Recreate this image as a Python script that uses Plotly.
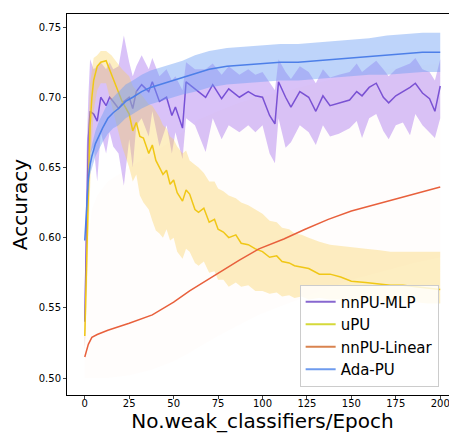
import plotly.graph_objects as go

# nnPU-MLP
mlp_ep = [0, 1, 2, 3, 5, 7, 9, 12, 14, 16, 19, 22, 25, 27, 29, 32, 36, 38, 42, 46,
          49, 51, 55, 57, 62, 68, 72, 77, 81, 87, 92, 96, 100, 104, 107, 109, 113, 116, 121, 126,
          130, 134, 138, 143, 149, 153, 156, 160, 164, 168, 171, 175, 179, 183, 186, 190, 194, 197, 200]
mlp_mean = [0.540, 0.620, 0.670, 0.690, 0.688, 0.683, 0.700, 0.694, 0.700, 0.697, 0.692, 0.697, 0.700, 0.692, 0.704, 0.709, 0.704, 0.711, 0.697, 0.700,
            0.687, 0.693, 0.678, 0.711, 0.706, 0.700, 0.709, 0.699, 0.706, 0.700, 0.704, 0.701, 0.700, 0.687, 0.681, 0.711, 0.700, 0.693, 0.704, 0.700,
            0.690, 0.701, 0.694, 0.696, 0.698, 0.704, 0.701, 0.707, 0.710, 0.700, 0.696, 0.701, 0.704, 0.707, 0.710, 0.703, 0.699, 0.690, 0.708]
mlp_lo = [0.520, 0.580, 0.630, 0.660, 0.665, 0.640, 0.675, 0.660, 0.675, 0.665, 0.660, 0.637, 0.670, 0.650, 0.680, 0.685, 0.672, 0.690, 0.665, 0.680,
          0.660, 0.675, 0.656, 0.685, 0.680, 0.661, 0.685, 0.670, 0.680, 0.675, 0.680, 0.675, 0.680, 0.660, 0.653, 0.685, 0.664, 0.668, 0.680, 0.675,
          0.666, 0.680, 0.672, 0.674, 0.678, 0.683, 0.671, 0.685, 0.688, 0.676, 0.670, 0.680, 0.682, 0.673, 0.688, 0.680, 0.675, 0.671, 0.685]
mlp_hi = [0.560, 0.660, 0.700, 0.727, 0.720, 0.722, 0.725, 0.720, 0.725, 0.720, 0.722, 0.744, 0.725, 0.715, 0.722, 0.730, 0.720, 0.728, 0.715, 0.720,
          0.712, 0.715, 0.705, 0.725, 0.720, 0.720, 0.724, 0.716, 0.722, 0.716, 0.720, 0.716, 0.718, 0.710, 0.705, 0.727, 0.718, 0.713, 0.722, 0.718,
          0.710, 0.720, 0.714, 0.716, 0.718, 0.724, 0.718, 0.722, 0.726, 0.720, 0.715, 0.720, 0.722, 0.724, 0.728, 0.720, 0.718, 0.712, 0.727]

# uPU
upu_ep = [0, 1, 2, 3, 4, 5, 7, 9, 12, 15, 18, 21, 25, 27, 29, 31, 33, 36, 38, 40,
          42, 44, 46, 48, 50, 52, 55, 57, 59, 62, 64, 67, 70, 73, 75, 78, 81, 85, 88, 92,
          96, 100, 104, 108, 111, 115, 118, 122, 126, 132, 138, 144, 150, 158, 166, 172, 179, 186, 193, 200]
upu_mean = [0.530, 0.580, 0.640, 0.680, 0.700, 0.712, 0.722, 0.725, 0.726, 0.716, 0.706, 0.697, 0.688, 0.676, 0.682, 0.672, 0.671, 0.660, 0.666, 0.655,
            0.650, 0.645, 0.648, 0.638, 0.641, 0.632, 0.626, 0.634, 0.631, 0.620, 0.618, 0.621, 0.611, 0.613, 0.606, 0.604, 0.600, 0.602, 0.596, 0.595,
            0.592, 0.590, 0.586, 0.587, 0.583, 0.582, 0.580, 0.579, 0.578, 0.574, 0.574, 0.572, 0.569, 0.568, 0.567, 0.566, 0.566, 0.565, 0.564, 0.563]
upu_lo = [0.520, 0.550, 0.600, 0.640, 0.670, 0.690, 0.705, 0.710, 0.710, 0.695, 0.680, 0.665, 0.650, 0.640, 0.645, 0.630, 0.625, 0.620, 0.612, 0.605,
          0.603, 0.600, 0.606, 0.598, 0.600, 0.590, 0.585, 0.592, 0.590, 0.582, 0.580, 0.583, 0.575, 0.576, 0.570, 0.570, 0.565, 0.568, 0.565, 0.566,
          0.562, 0.562, 0.560, 0.561, 0.558, 0.559, 0.557, 0.558, 0.556, 0.557, 0.556, 0.556, 0.555, 0.555, 0.555, 0.554, 0.554, 0.554, 0.553, 0.553]
upu_hi = [0.540, 0.610, 0.680, 0.710, 0.720, 0.728, 0.730, 0.733, 0.733, 0.730, 0.725, 0.720, 0.715, 0.708, 0.705, 0.703, 0.700, 0.695, 0.694, 0.690,
          0.686, 0.680, 0.678, 0.672, 0.670, 0.665, 0.660, 0.662, 0.655, 0.652, 0.650, 0.646, 0.640, 0.640, 0.635, 0.633, 0.630, 0.628, 0.625, 0.623,
          0.620, 0.617, 0.612, 0.611, 0.607, 0.606, 0.603, 0.602, 0.600, 0.597, 0.595, 0.594, 0.593, 0.592, 0.591, 0.590, 0.590, 0.590, 0.590, 0.590]

# nnPU-Linear
lin_ep = [0, 2, 4, 7, 13, 25, 38, 50, 59, 64, 75, 87, 98, 112, 124, 137, 150, 162, 170, 185, 200]
lin_mean = [0.515, 0.524, 0.529, 0.531, 0.534, 0.539, 0.545, 0.554, 0.562, 0.566, 0.575, 0.584, 0.592, 0.599, 0.606, 0.613, 0.619, 0.623, 0.626, 0.631, 0.636]
lin_lo = [0.500, 0.500, 0.500, 0.500, 0.500, 0.502, 0.506, 0.512, 0.518, 0.522, 0.530, 0.538, 0.545, 0.552, 0.558, 0.564, 0.570, 0.574, 0.577, 0.582, 0.586]
lin_hi = [0.560, 0.600, 0.620, 0.630, 0.640, 0.650, 0.660, 0.670, 0.680, 0.684, 0.690, 0.696, 0.700, 0.704, 0.708, 0.712, 0.716, 0.718, 0.720, 0.722, 0.724]

# Ada-PU
ada_ep = [0, 1, 2, 3, 4, 6, 8, 10, 13, 16, 19, 23, 27, 32, 37, 42, 48, 55, 62, 70,
          80, 90, 100, 110, 120, 130, 140, 150, 160, 170, 180, 190, 200]
ada_mean = [0.598, 0.625, 0.642, 0.652, 0.658, 0.667, 0.673, 0.678, 0.685, 0.689, 0.692, 0.697, 0.700, 0.704, 0.707, 0.709, 0.711, 0.714, 0.717, 0.720,
            0.722, 0.723, 0.724, 0.725, 0.725, 0.726, 0.727, 0.728, 0.729, 0.730, 0.731, 0.732, 0.732]
ada_lo = [0.596, 0.621, 0.636, 0.645, 0.650, 0.658, 0.663, 0.668, 0.674, 0.678, 0.680, 0.685, 0.688, 0.692, 0.695, 0.697, 0.699, 0.702, 0.704, 0.707,
          0.709, 0.710, 0.711, 0.712, 0.712, 0.713, 0.714, 0.715, 0.716, 0.716, 0.717, 0.718, 0.718]
ada_hi = [0.600, 0.629, 0.648, 0.659, 0.666, 0.676, 0.683, 0.688, 0.696, 0.700, 0.704, 0.709, 0.712, 0.716, 0.719, 0.721, 0.723, 0.726, 0.730, 0.733,
          0.735, 0.736, 0.737, 0.738, 0.738, 0.739, 0.740, 0.741, 0.742, 0.744, 0.745, 0.746, 0.746]

series = [
    ("nnPU-MLP", mlp_ep, mlp_mean, mlp_lo, mlp_hi, "#7750d6", "rgba(170,120,240,0.45)", "#8767cf"),
    ("uPU", upu_ep, upu_mean, upu_lo, upu_hi, "#f0c814", "rgba(248,205,80,0.35)", "#d5d93a"),
    ("nnPU-Linear", lin_ep, lin_mean, lin_lo, lin_hi, "#e8603c", "rgba(250,150,130,0.025)", "#d9834f"),
    ("Ada-PU", ada_ep, ada_mean, ada_lo, ada_hi, "#4d7fe8", "rgba(110,160,245,0.45)", "#6e9bee"),
]

fig = go.Figure()
for name, ep, mean, lo, hi, lc, fc, legc in series:
    fig.add_trace(go.Scatter(x=ep, y=hi, mode="lines", line=dict(width=0),
                             showlegend=False, hoverinfo="skip"))
    fig.add_trace(go.Scatter(x=ep, y=lo, mode="lines", line=dict(width=0),
                             fill="tonexty", fillcolor=fc, showlegend=False, hoverinfo="skip"))
    fig.add_trace(go.Scatter(x=ep, y=mean, mode="lines", line=dict(color=lc, width=1.5),
                             showlegend=False, name=name))

for name, ep, mean, lo, hi, lc, fc, legc in series:
    fig.add_trace(go.Scatter(x=[None], y=[None], mode="lines", name=name,
                             line=dict(color=legc, width=2)))

fig.update_layout(
    width=457, height=435,
    margin=dict(l=59, r=7, t=6, b=48),
    paper_bgcolor="white", plot_bgcolor="white",
    font=dict(family="DejaVu Sans", color="black"),
    showlegend=True,
    legend=dict(x=0.595, y=0.29, xanchor="left", yanchor="top", traceorder="normal",
                bgcolor="rgba(255,255,255,0.8)", bordercolor="#cccccc", borderwidth=1,
                font=dict(size=15), tracegroupgap=0),
)
fig.update_xaxes(
    range=[-10, 210], tickvals=[0, 25, 50, 75, 100, 125, 150, 175, 200],
    showgrid=False, zeroline=False, showline=True, linecolor="black", linewidth=1,
    mirror=True, ticks="outside", ticklen=3, tickfont=dict(size=10),
    ticklabelstandoff=-4,
    title=dict(text="No.weak_classifiers/Epoch", font=dict(size=20), standoff=0),
)
fig.update_yaxes(
    range=[0.4879, 0.7593], tickvals=[0.50, 0.55, 0.60, 0.65, 0.70, 0.75],
    tickformat=".2f",
    showgrid=False, zeroline=False, showline=True, linecolor="black", linewidth=1,
    mirror=True, ticks="outside", ticklen=3, tickfont=dict(size=10),
    title=dict(text="Accuracy", font=dict(size=20), standoff=10),
)

fig.write_html("out.html")
